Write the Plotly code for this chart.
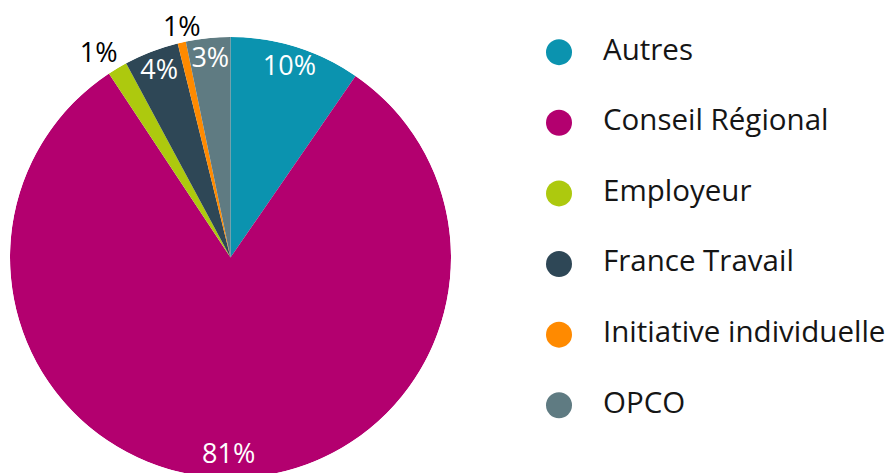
import plotly.graph_objects as go

# financeurs - part des entrées (%)
labels = ["Autres", "Conseil Régional", "Employeur", "France Travail",
          "Initiative individuelle", "OPCO"]
values = [9.6, 81.1, 1.45, 4.0, 0.6, 3.25]
colors = ["#0B93AF", "#B3006F", "#ADC90E", "#2E4756", "#FF8A00", "#5F7B82"]
# where each percentage sits: inside the slice or just outside the rim
label_pos = ["middle center", "middle center", "top left", "middle center",
             "top center", "middle center"]

FONT = "Open Sans"

# page has an 8px body margin, figure sized to fit the window
W, H = 890, 480
ml, mt, mr = 2, 29, 4
pie_d = 441
mb = H - mt - pie_d
plot_w = W - ml - mr

total = sum(values)
widths, mids = [], []
acc = 0
for v in values:
    widths.append(v / total * 360)
    mids.append((acc + v / 2) / total * 360)
    acc += v
pct_txt = ["%d%%" % round(v / total * 100) for v in values]
inside = [p == "middle center" for p in label_pos]

fig = go.Figure()

# pie slices drawn as polar bars so the labels can sit above them
fig.add_trace(go.Barpolar(
    r=[1] * len(values), theta=mids, width=widths,
    marker=dict(color=colors, line=dict(width=0)),
    text=labels, hovertemplate="%{text}<extra></extra>",
    showlegend=False,
))
fig.add_trace(go.Scatterpolar(
    r=[0.9 if ins else 0.999 for ins in inside], theta=mids,
    mode="text", text=pct_txt, textposition=label_pos,
    textfont=dict(size=27, family=FONT, weight=500,
                  color=["white" if ins else "black" for ins in inside]),
    cliponaxis=False, hoverinfo="skip", showlegend=False,
))

# legend drawn as a marker column + label column
fig.add_trace(go.Scatter(
    x=[0] * len(labels), y=labels, mode="markers",
    marker=dict(size=26, color=colors, line=dict(width=0)),
    showlegend=False, hoverinfo="skip",
))
fig.add_trace(go.Scatter(
    x=[1] * len(labels), y=labels, mode="text",
    text=labels, textposition="middle right",
    textfont=dict(size=29.5, color="#151515", family=FONT),
    cliponaxis=False, showlegend=False, hoverinfo="skip",
))

# one x unit = 44px; markers at 551px, labels at 595px
x0 = -(551 - ml) / 44
fig.update_layout(
    width=W, height=H,
    margin=dict(l=ml, r=mr, t=mt, b=mb),
    paper_bgcolor="white", plot_bgcolor="rgba(0,0,0,0)",
    font=dict(family=FONT),
    polar=dict(
        domain=dict(x=[0, pie_d / plot_w], y=[0, 1]),
        bgcolor="rgba(0,0,0,0)",
        radialaxis=dict(range=[0, 1], visible=False),
        angularaxis=dict(rotation=90, direction="clockwise", visible=False),
    ),
    xaxis=dict(range=[x0, x0 + plot_w / 44], visible=False, fixedrange=True),
    yaxis=dict(type="category", range=[6.03, -0.215], visible=False,
               fixedrange=True),
)

fig.write_html("out.html")
